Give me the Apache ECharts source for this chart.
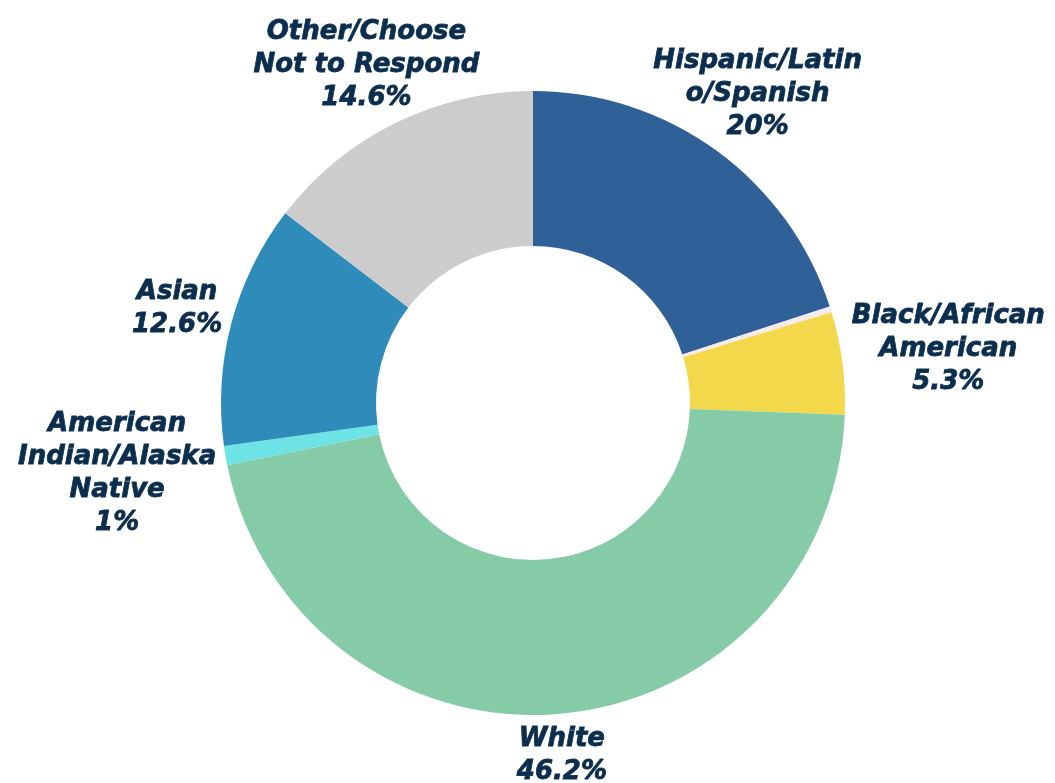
<!DOCTYPE html>
<html>
<head>
<meta charset="utf-8">
<script src="https://cdn.jsdelivr.net/npm/echarts@6/dist/echarts.min.js"></script>
<style>
  html, body { margin: 0; padding: 0; background: #ffffff; }
  #chart { width: 1055px; height: 783px; }
</style>
</head>
<body>
<div id="chart"></div>
<script>
// Survey respondents by race / ethnicity (percent)
const categories = [
  'Hispanic/Latin\no/Spanish',
  '(unlabeled)',
  'Black/African\nAmerican',
  'White',
  'American\nIndian/Alaska\nNative',
  'Asian',
  'Other/Choose\nNot to Respond'
];
const values = [20, 0.3, 5.3, 46.2, 1, 12.6, 14.6];
const colors = ['#2f6098', '#f7eaec', '#f4d84b', '#85cba7', '#6de3e6', '#2e8bba', '#cccccc'];
const showLabel = [true, false, true, true, true, true, true];

const CX = 533, CY = 403, R_IN = 157, R_OUT = 312, LABEL_GAP = 9;
const START = 90;
const total = values.reduce((a, b) => a + b, 0);

// mid angle (degrees, math orientation) of each sector, drawn clockwise from the top
const midAngles = [];
let acc = 0;
values.forEach(v => {
  midAngles.push(START - 360 * (acc + v / 2) / total);
  acc += v;
});

const TEXT_COLOR = '#0b2d4e';

const chart = echarts.init(document.getElementById('chart'));
chart.setOption({
  animation: false,
  backgroundColor: '#ffffff',
  series: [{
    type: 'pie',
    center: [CX, CY],
    radius: [R_IN, R_OUT],
    startAngle: START,
    clockwise: true,
    avoidLabelOverlap: false,
    data: categories.map((name, i) => ({
      name: name,
      value: values[i],
      itemStyle: { color: colors[i] },
      label: { show: showLabel[i] }
    })),
    label: {
      position: 'outside',
      formatter: p => p.name + '\n' + p.value + '%',
      color: TEXT_COLOR,
      textBorderColor: TEXT_COLOR,
      textBorderWidth: 0.8,
      fontFamily: '"DejaVu Sans", sans-serif',
      fontStyle: 'italic',
      fontWeight: 'bold',
      fontSize: 26,
      lineHeight: 33,
      align: 'center'
    },
    labelLine: { show: false },
    // put each label box just outside the ring, along its sector's mid angle
    labelLayout: function (params) {
      const a = midAngles[params.dataIndex] * Math.PI / 180;
      const ux = Math.cos(a), uy = Math.sin(a);
      const w = params.labelRect.width / 2, h = params.labelRect.height / 2;
      const dw = Math.abs(ux) > 1e-6 ? w / Math.abs(ux) : Infinity;
      const dh = Math.abs(uy) > 1e-6 ? h / Math.abs(uy) : Infinity;
      const d = R_OUT + LABEL_GAP + Math.min(dw, dh);
      return {
        x: CX + d * ux,
        y: CY - d * uy,
        align: 'center',
        verticalAlign: 'middle'
      };
    },
    emphasis: { disabled: true }
  }]
});
</script>
</body>
</html>
